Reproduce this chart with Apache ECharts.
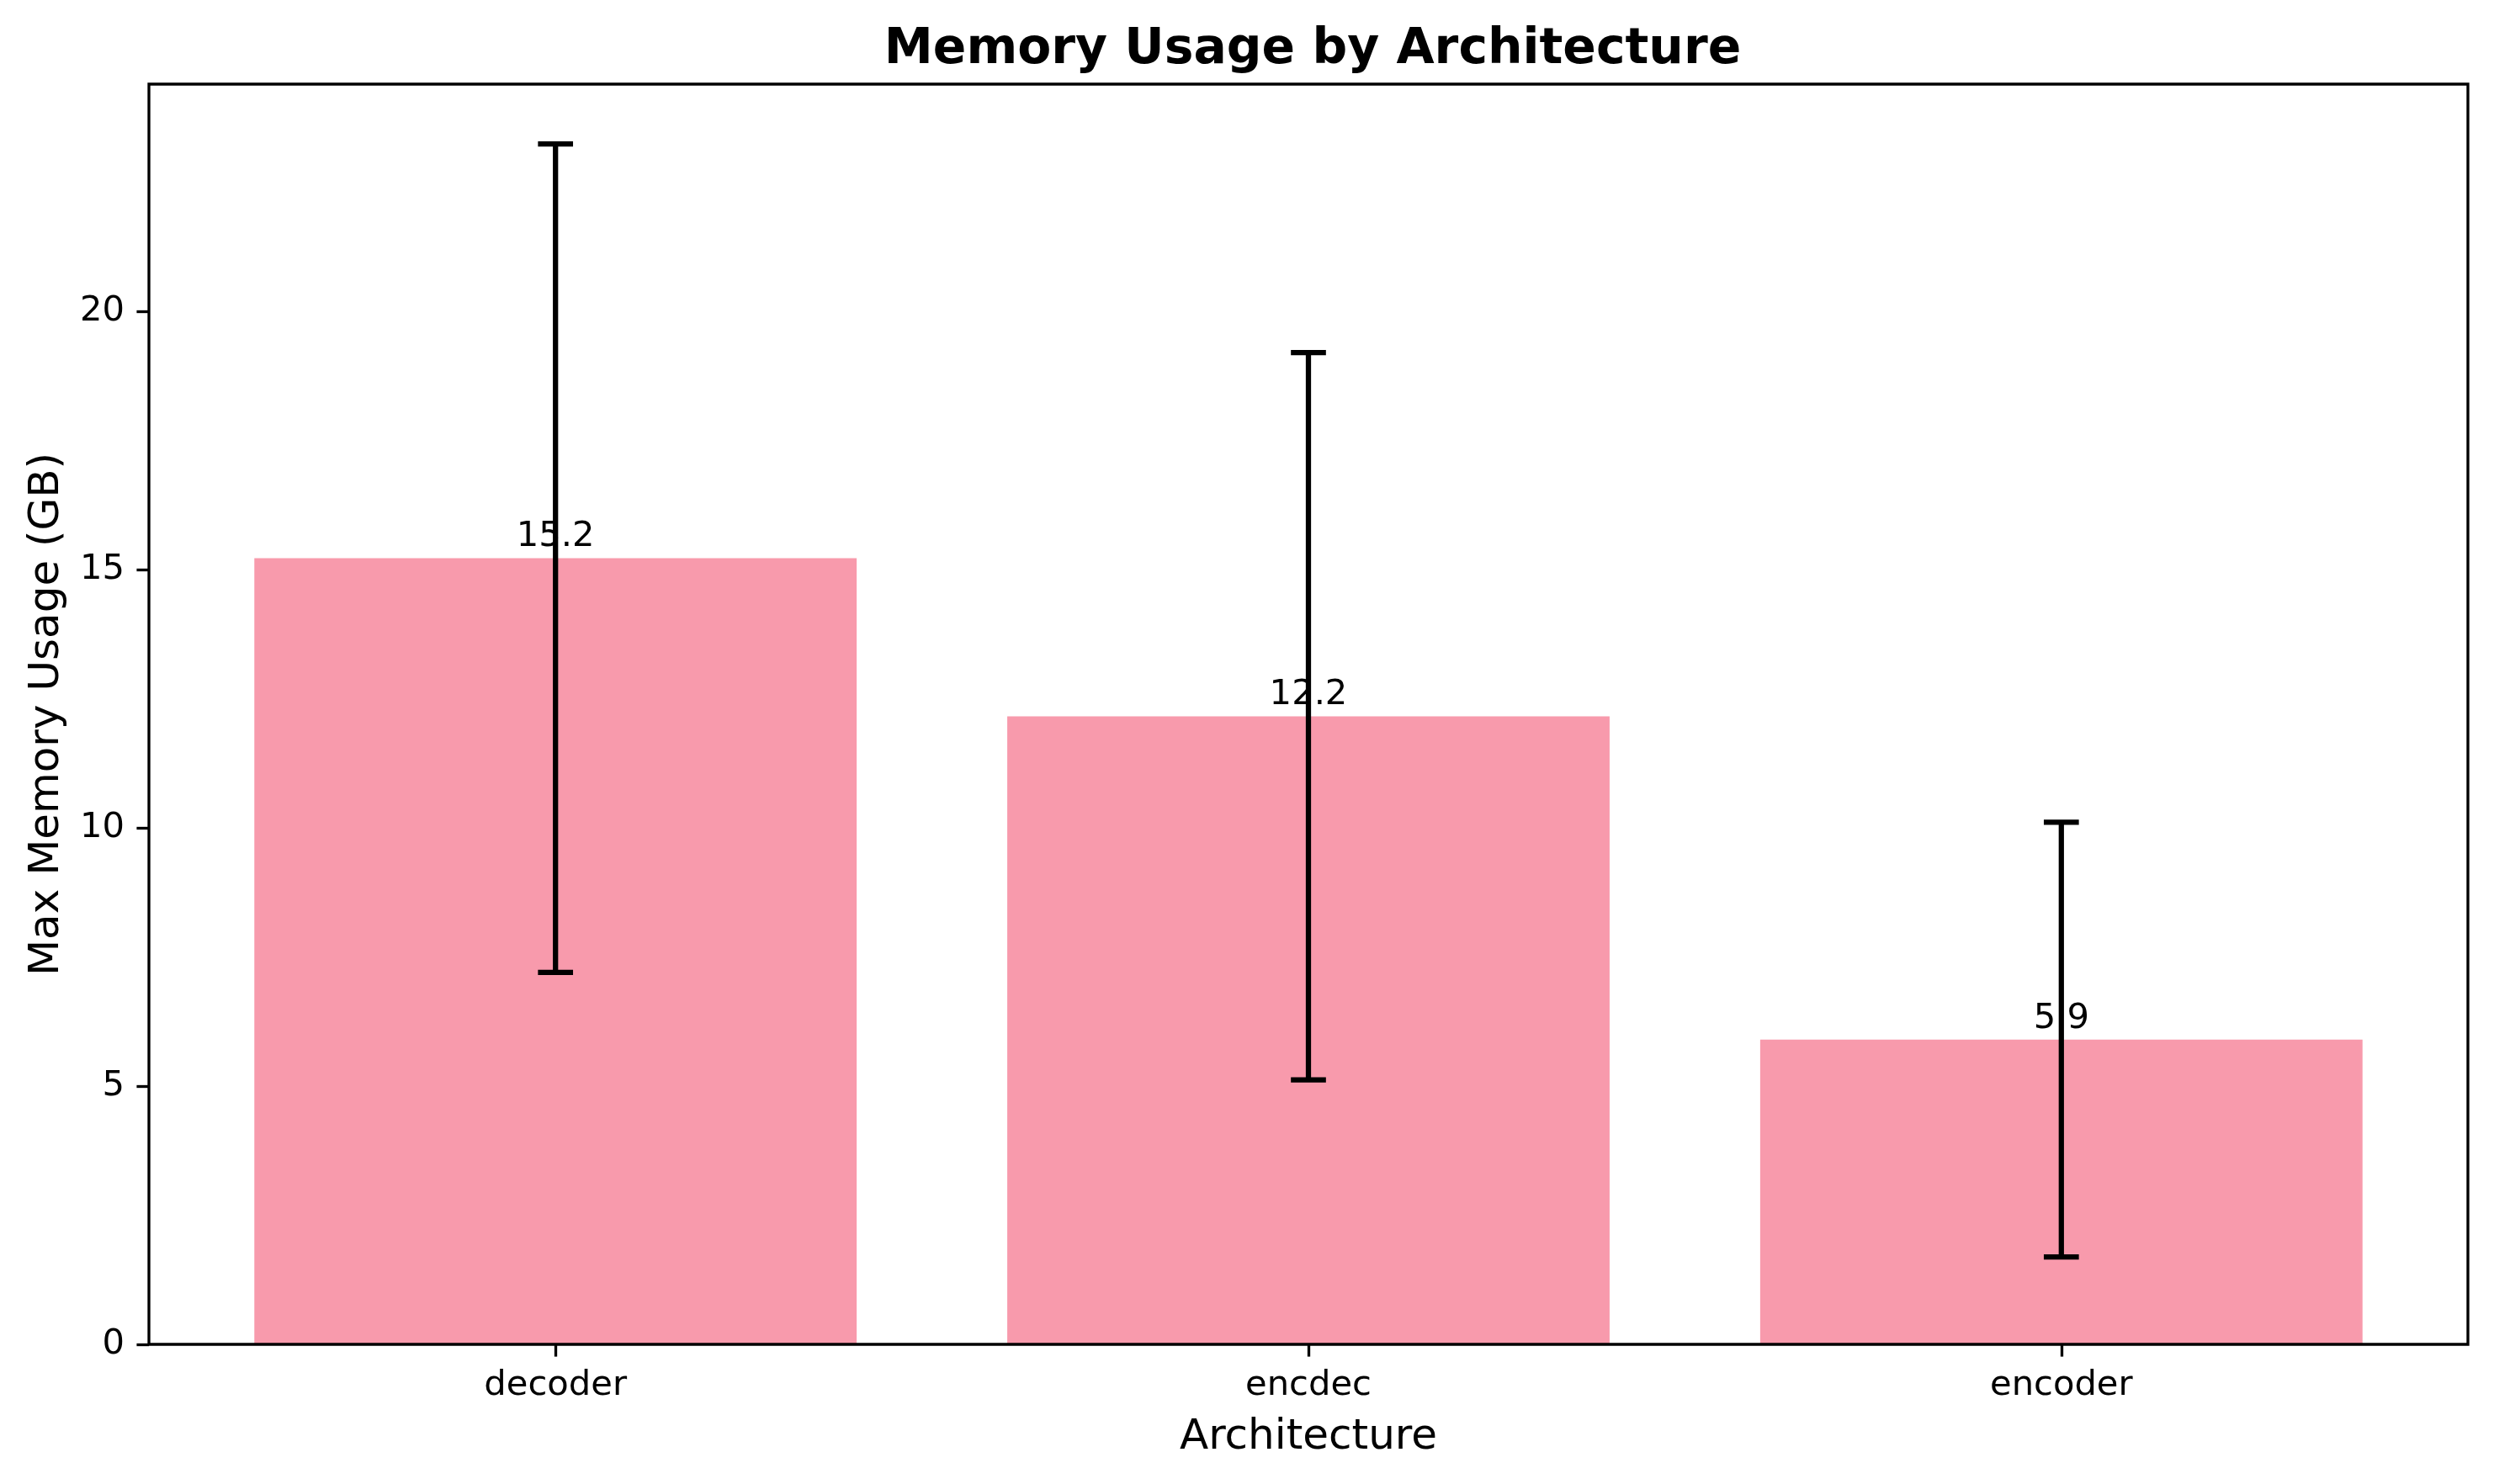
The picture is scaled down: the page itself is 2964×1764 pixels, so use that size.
<!DOCTYPE html>
<html>
<head>
<meta charset="utf-8">
<script src="https://cdn.jsdelivr.net/npm/echarts@6/dist/echarts.min.js"></script>
<style>
html,body{margin:0;padding:0;background:#fff;}
#chart{width:2964px;height:1764px;}
</style>
</head>
<body>
<div id="chart"></div>
<script>
// ---- data ----
const categories = ['decoder', 'encdec', 'encoder'];
const meanMemory = [15.22, 12.16, 5.9];
const stdMemory = [8.02, 7.04, 4.21];
const yTicks = [0, 5, 10, 15, 20];

const FONT = 'DejaVu Sans';
const PT = 300 / 72;

// frame (matplotlib axes box)
const frame = { left: 177, top: 100, width: 2756, height: 1498 };
// inner band so bar centres fall like matplotlib's (xlim -0.54 .. 2.54)
const unitPx = frame.width / 3.08;
const inset = 0.04 * unitPx;

const errData = categories.map((c, i) => [i, meanMemory[i] - stdMemory[i], meanMemory[i] + stdMemory[i]]);

const chart = echarts.init(document.getElementById('chart'), null, { renderer: 'canvas' });
chart.setOption({
  backgroundColor: '#ffffff',
  animation: false,
  title: {
    text: 'Memory Usage by Architecture',
    left: frame.left + frame.width / 2,
    top: 26,
    textAlign: 'center',
    textStyle: { fontFamily: FONT, fontWeight: 'bold', fontSize: 14 * PT, color: '#000' }
  },
  grid: [
    { left: frame.left, top: frame.top, width: frame.width, height: frame.height,
      show: true, borderColor: '#000', borderWidth: 0.8 * PT, backgroundColor: 'transparent', z: 10 },
    { left: frame.left + inset, top: frame.top, width: frame.width - 2 * inset, height: frame.height }
  ],
  xAxis: [
    { gridIndex: 0, type: 'value', show: false, min: 0, max: 1 },
    {
      gridIndex: 1, type: 'category', data: categories,
      axisLine: { show: false },
      axisTick: { show: true, alignWithLabel: true, length: 3.5 * PT, lineStyle: { color: '#000', width: 0.8 * PT } },
      axisLabel: { fontFamily: FONT, fontSize: 10 * PT, color: '#000', margin: 28 },
      name: 'Architecture', nameLocation: 'middle', nameGap: 86,
      nameTextStyle: { fontFamily: FONT, fontSize: 12 * PT, color: '#000' }
    }
  ],
  yAxis: [
    { gridIndex: 0, type: 'value', show: false, min: 0, max: 1 },
    {
      gridIndex: 1, type: 'value', min: 0, max: 24.4, offset: inset,
      axisLine: { show: false },
      splitLine: { show: false },
      axisTick: { show: true, length: 3.5 * PT, customValues: yTicks, lineStyle: { color: '#000', width: 0.8 * PT } },
      axisLabel: { fontFamily: FONT, fontSize: 10 * PT, color: '#000', margin: 29, customValues: yTicks },
      name: 'Max Memory Usage (GB)', nameLocation: 'middle', nameGap: 96, nameRotate: 90,
      nameTextStyle: { fontFamily: FONT, fontSize: 12 * PT, color: '#000' }
    }
  ],
  series: [
    {
      type: 'bar', xAxisIndex: 1, yAxisIndex: 1, data: meanMemory,
      barWidth: '80%', z: 2,
      itemStyle: { color: '#f89aac' },
      label: {
        show: true, position: 'top', distance: 4,
        fontFamily: FONT, fontSize: 10 * PT, color: '#000',
        formatter: p => p.value.toFixed(1)
      }
    },
    {
      type: 'custom', xAxisIndex: 1, yAxisIndex: 1, data: errData, z: 5,
      renderItem: function (params, api) {
        const x = api.value(0);
        const lo = api.coord([x, api.value(1)]);
        const hi = api.coord([x, api.value(2)]);
        const cap = 5 * PT;
        const st = { stroke: '#000', lineWidth: 1.5 * PT };
        return {
          type: 'group',
          children: [
            { type: 'line', shape: { x1: lo[0], y1: lo[1], x2: hi[0], y2: hi[1] }, style: st },
            { type: 'line', shape: { x1: lo[0] - cap, y1: lo[1], x2: lo[0] + cap, y2: lo[1] }, style: st },
            { type: 'line', shape: { x1: hi[0] - cap, y1: hi[1], x2: hi[0] + cap, y2: hi[1] }, style: st }
          ]
        };
      }
    }
  ]
});
</script>
</body>
</html>
